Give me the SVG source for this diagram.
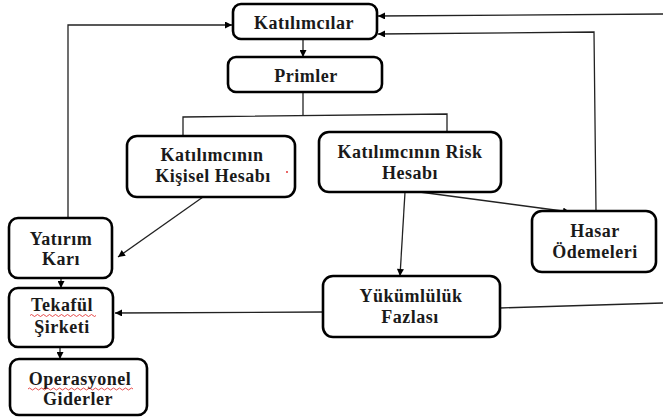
<svg xmlns="http://www.w3.org/2000/svg" width="663" height="419" viewBox="0 0 663 419">
<defs>
<marker id="ah" viewBox="0 0 10 10" refX="10" refY="5" markerWidth="8" markerHeight="7" orient="auto" markerUnits="userSpaceOnUse"><path d="M0,0 L10,5 L0,10 z" fill="#000"/></marker>
<style>
.box{fill:#fff;stroke:#000;stroke-width:2.6}
.t{font-family:"Liberation Serif","Times New Roman",serif;font-weight:bold;font-size:18px;letter-spacing:0.5px;fill:#1a1a1a;text-anchor:middle}
.c{fill:none;stroke:#222;stroke-width:1.3}
.a{marker-end:url(#ah)}
.sq{fill:none;stroke:#e02020;stroke-width:0.8}
</style>
</defs>
<rect width="663" height="419" fill="#fff"/>
<g id="connectors">
<line class="c a" x1="303" y1="39" x2="303" y2="57"/>
<polyline class="c a" points="68,218 68,25 232,25"/>
<line class="c a" x1="663" y1="14" x2="378" y2="16"/>
<polyline class="c a" points="596,211 594,32 378,34"/>
<polyline class="c" points="303,92 303,115"/>
<polyline class="c" points="183,136 183,117 447,114 447,132"/>
<line class="c a" x1="203" y1="197" x2="118" y2="257"/>
<line class="c a" x1="405" y1="192" x2="400" y2="276"/>
<line class="c a" x1="412" y1="191" x2="570" y2="212"/>
<line class="c a" x1="61" y1="278" x2="61" y2="288"/>
<line class="c a" x1="60" y1="347" x2="60" y2="359"/>
<line class="c a" x1="323" y1="312" x2="115" y2="313"/>
<line class="c" x1="500" y1="308" x2="663" y2="303"/>
</g>
<g id="katilimcilar"><rect class="box" x="233" y="4" width="144" height="35" rx="8"/><text class="t" x="304" y="29">Katılımcılar</text></g>
<g id="primler"><rect class="box" x="228" y="57" width="154" height="35" rx="8"/><text class="t" x="306" y="82">Primler</text></g>
<g id="kisisel"><rect class="box" x="127" y="136" width="168" height="61" rx="10"/><text class="t" x="212" y="161">Katılımcının</text><text class="t" x="213" y="182">Kişisel Hesabı</text></g>
<circle cx="287" cy="172" r="0.9" fill="#e02020"/>
<g id="risk"><rect class="box" x="319" y="132" width="182" height="60" rx="10"/><text class="t" x="410" y="158">Katılımcının Risk</text><text class="t" x="410" y="179">Hesabı</text></g>
<g id="hasar"><rect class="box" x="532" y="211" width="124" height="61" rx="10"/><text class="t" x="595" y="237">Hasar</text><text class="t" x="595" y="258">Ödemeleri</text></g>
<g id="yatirim"><rect class="box" x="9" y="218" width="103" height="60" rx="9"/><text class="t" x="61" y="245">Yatırım</text><text class="t" x="61" y="265">Karı</text></g>
<g id="tekaful"><rect class="box" x="9" y="288" width="104" height="59" rx="9"/><text class="t" x="62" y="311">Tekafül</text><text class="t" x="62" y="333">Şirketi</text>
<path class="sq" d="M30,315.5 q1.5,-2 3,0 t3,0 t3,0 t3,0 t3,0 t3,0 t3,0 t3,0 t3,0 t3,0 t3,0 t3,0 t3,0 t3,0 t3,0 t3,0 t3,0 t3,0 t3,0 t3,0 t3,0 t3,0"/></g>
<g id="operasyonel"><rect class="box" x="10" y="359" width="137" height="56" rx="9"/><text class="t" x="80" y="385">Operasyonel</text><text class="t" x="78" y="405">Giderler</text>
<path class="sq" d="M28,389 q1.5,-2 3,0 t3,0 t3,0 t3,0 t3,0 t3,0 t3,0 t3,0 t3,0 t3,0 t3,0 t3,0 t3,0 t3,0 t3,0 t3,0 t3,0 t3,0 t3,0 t3,0 t3,0 t3,0 t3,0 t3,0 t3,0 t3,0 t3,0 t3,0 t3,0 t3,0 t3,0 t3,0 t3,0 t3,0 t3,0"/></g>
<g id="yukumluluk"><rect class="box" x="323" y="276" width="177" height="61" rx="10"/><text class="t" x="411" y="302">Yükümlülük</text><text class="t" x="410" y="323">Fazlası</text></g>
</svg>
